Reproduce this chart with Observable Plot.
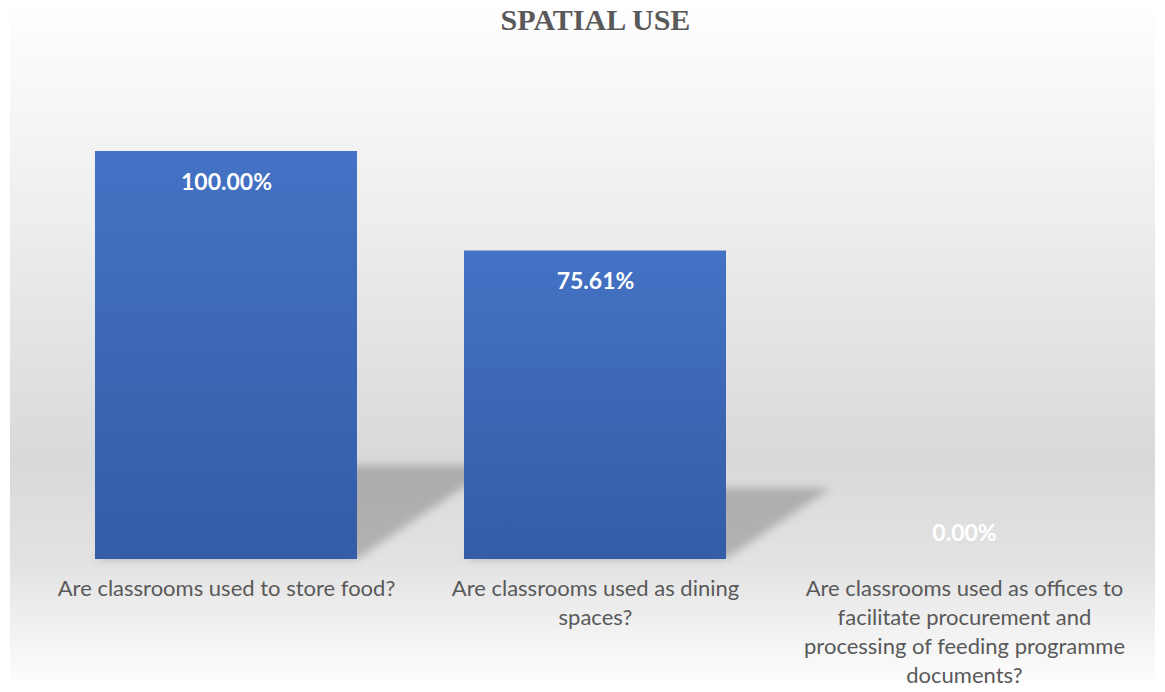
<!DOCTYPE html>
<html><head><meta charset="utf-8">
<script src="https://cdn.jsdelivr.net/npm/d3@7"></script>
<script src="https://cdn.jsdelivr.net/npm/@observablehq/plot@0.6"></script>
<style>
html,body{margin:0;padding:0;background:#fff;width:1165px;height:692px;overflow:hidden;position:relative}
#bg{position:absolute;left:10px;top:8px;width:1145px;height:674px;
 background:linear-gradient(to bottom,#fefefe 0%,#f3f3f3 21%,#ebebeb 36%,#d9d9d9 67%,#e2e2e2 82%,#fdfdfd 100%)}
#title{position:absolute;left:13px;top:0;width:1165px;height:40px;text-align:center;font:bold 30px "Liberation Serif","Times New Roman",serif;color:#595959;line-height:40px}
#chart{position:absolute;left:0;top:40px}
</style>
</head><body>
<div id="bg"></div>
<div id="title">SPATIAL USE</div>
<div id="chart"></div>
<script>
const categories = [
  "Are classrooms used to store food?",
  "Are classrooms used as dining spaces?",
  "Are classrooms used as offices to facilitate procurement and processing of feeding programme documents?"
];
const tickLabels = [
  "Are classrooms used to store food?",
  "Are classrooms used as dining\nspaces?",
  "Are classrooms used as offices to\nfacilitate procurement and\nprocessing of feeding programme\ndocuments?"
];
const values = [1.0, 0.7561, 0.0];
const valueLabels = ["100.00%", "75.61%", "0.00%"];

const data = categories.map((c, i) => ({category: c, label: tickLabels[i], value: values[i], text: valueLabels[i]}));

const plot = Plot.plot({
  width: 1165, height: 652,
  marginTop: 111, marginBottom: 133, marginLeft: 38.5, marginRight: 12.5,
  x: {domain: categories, paddingInner: 0.289, paddingOuter: 0.15, axis: null},
  y: {domain: [0, 1], axis: null},
  style: {background: "transparent", overflow: "visible"},
  marks: [
    Plot.barY(data, {x: "category", y: "value", fill: "url(#barGrad)"}),
    Plot.text(data.filter(d => d.value > 0), {x: "category", y: "value", text: "text", lineAnchor: "top", dy: 22,
      fill: "white", fontWeight: "bold", fontSize: 23, fontFamily: "Lato, sans-serif"}),
    Plot.text(data.filter(d => d.value === 0), {x: "category", y: "value", text: "text", lineAnchor: "bottom", dy: -19,
      fill: "white", fontWeight: "bold", fontSize: 23, fontFamily: "Lato, sans-serif"}),
    Plot.text(data, {x: "category", y: 0, text: "label", lineAnchor: "top", dy: 16, lineHeight: 1.32,
      fill: "#595959", fontSize: 22, fontFamily: "Lato, sans-serif"})
  ]
});
document.getElementById("chart").appendChild(plot);

// gradient + perspective shadows drawn from the scales
const svg = d3.select(plot);
const defs = svg.insert("defs", ":first-child");
const g = defs.append("linearGradient").attr("id", "barGrad").attr("x1", 0).attr("y1", 0).attr("x2", 0).attr("y2", 1);
g.append("stop").attr("offset", "0%").attr("stop-color", "#4472c4");
g.append("stop").attr("offset", "100%").attr("stop-color", "#345ca7");
defs.append("filter").attr("id", "blur").attr("x", "-20%").attr("y", "-20%").attr("width", "140%").attr("height", "140%")
  .append("feGaussianBlur").attr("stdDeviation", 4);

const xs = plot.scale("x"), ys = plot.scale("y");
const bw = xs.bandwidth;
const yb = ys.apply(0);
const shadowG = svg.insert("g", "g[aria-label='bar']").attr("filter", "url(#blur)");
data.forEach(d => {
  if (d.value <= 0) return;
  const x0 = xs.apply(d.category), x1 = x0 + bw;
  const yt = ys.apply(d.value * 0.23);
  const dx = 0.34 * (yb - ys.apply(d.value));
  shadowG.append("polygon")
    .attr("points", [[x0, yb], [x1, yb], [x1 + dx, yt], [x0 + dx, yt]].map(p => p.join(",")).join(" "))
    .attr("fill", "#000").attr("fill-opacity", 0.21);
});
</script>
</body></html>
